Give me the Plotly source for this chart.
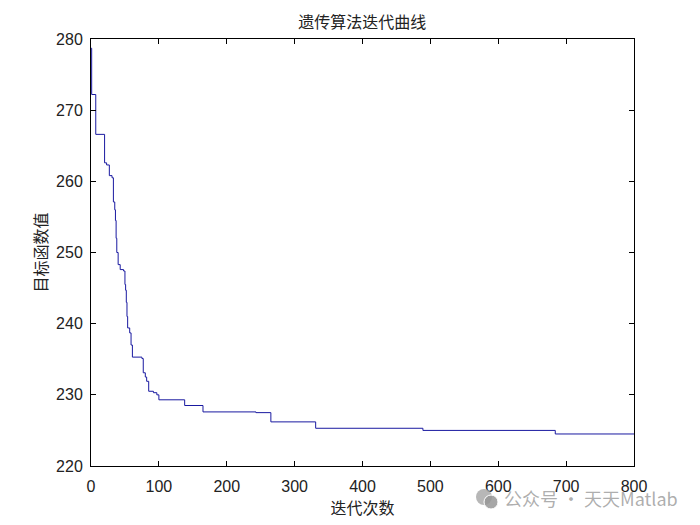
import plotly.graph_objects as go

# Step points of the best objective value per iteration (iteration where value changes)
iterations = [0, 1, 7, 20, 23, 27, 31, 33, 35, 36, 37, 38, 40, 43, 48, 50, 51, 52, 53, 54,
              57, 59, 61, 75, 77, 80, 82, 85, 92, 97, 100, 138, 165, 243, 265, 331, 489, 684, 800]
values = [278.7, 272.2, 266.6, 262.6, 262.3, 260.8, 260.5, 257.1, 256.0, 254.5, 252.0, 250.0,
          248.3, 247.6, 247.4, 245.5, 244.7, 243.0, 241.0, 239.4, 238.7, 237.0, 235.3, 235.1,
          233.1, 232.5, 231.9, 230.5, 230.3, 230.0, 229.3, 228.5, 227.6, 227.5, 226.2, 225.3,
          225.0, 224.5, 224.5]

x_ticks = [0, 100, 200, 300, 400, 500, 600, 700, 800]
y_ticks = [220, 230, 240, 250, 260, 270, 280]

title_text = "遗传算法迭代曲线"
x_label = "迭代次数"
y_label = "目标函数值"
watermark = "公众号 · 天天Matlab"

cjk = "Noto Sans CJK SC"
num_font = "Liberation Sans, Arial, sans-serif"

fig = go.Figure()
fig.add_trace(go.Scatter(
    x=iterations, y=values, mode="lines", line_shape="hv",
    line=dict(color="rgb(25,25,160)", width=1), showlegend=False, hoverinfo="x+y"))

axis_common = dict(
    showgrid=False, zeroline=False, showline=True, linecolor="black", linewidth=1,
    mirror="ticks", ticks="inside", ticklen=5, tickwidth=1, tickcolor="black",
    automargin=False,
    tickfont=dict(family=num_font, size=16, color="#222222"),
)

fig.update_layout(
    width=700, height=525,
    paper_bgcolor="white", plot_bgcolor="white",
    margin=dict(l=91, r=66, t=39, b=59),
    title=dict(text=title_text, x=0.5175, xanchor="center", y=0.958, yanchor="middle",
               automargin=False,
               font=dict(family=cjk, size=16, color="#222222")),
    xaxis=dict(range=[0, 800], tickvals=x_ticks, ticktext=[str(v) for v in x_ticks],
               ticklabelstandoff=6,
               title=dict(text=x_label, standoff=4, font=dict(family=cjk, size=16, color="#222222")),
               **axis_common),
    yaxis=dict(range=[220, 280], tickvals=y_ticks, ticktext=[str(v) for v in y_ticks],
               ticklabelstandoff=4,
               title=dict(text=y_label, standoff=4, font=dict(family=cjk, size=16, color="#222222")),
               **axis_common),
)

fig.add_annotation(text=watermark, xref="paper", yref="paper", x=1.0 + 46 / 543, y=-0.075,
                   xanchor="right", yanchor="middle", showarrow=False,
                   font=dict(family=cjk, size=18, color="rgba(160,160,160,0.85)"))
# simple WeChat-like icon (two overlapping bubbles)
fig.add_shape(type="circle", xref="paper", yref="paper",
              x0=(476 - 91) / 543, x1=(492 - 91) / 543, y0=(466 - 505) / 427, y1=(466 - 489) / 427,
              fillcolor="rgba(170,170,170,0.85)", line=dict(width=0))
fig.add_shape(type="circle", xref="paper", yref="paper",
              x0=(484 - 91) / 543, x1=(498 - 91) / 543, y0=(466 - 509) / 427, y1=(466 - 495) / 427,
              fillcolor="rgba(150,150,150,0.85)", line=dict(color="white", width=1))

fig.write_html("out.html", config={"displayModeBar": False},
               post_script="document.body.style.margin='0';")
